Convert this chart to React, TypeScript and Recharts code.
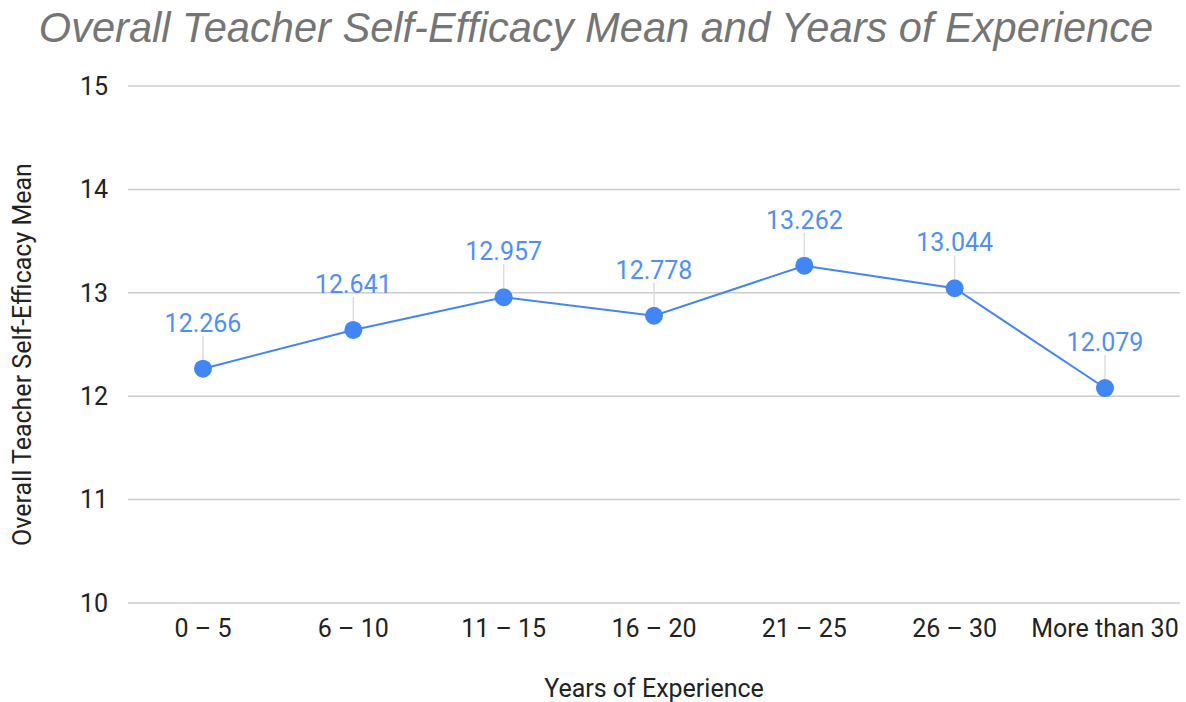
import React from "react";
import { LineChart, Line, XAxis, YAxis, CartesianGrid, LabelList } from "recharts";

const categories = ["0 – 5", "6 – 10", "11 – 15", "16 – 20", "21 – 25", "26 – 30", "More than 30"];
const meanValues = [12.266, 12.641, 12.957, 12.778, 13.262, 13.044, 12.079];
const yTicks = [10, 11, 12, 13, 14, 15];

const data = categories.map((c, i) => ({ name: c, mean: meanValues[i] }));

const FONT = "Roboto, 'Liberation Sans', Arial, sans-serif";

const PointLabel = (props: any) => {
  const { x, y, value } = props;
  return (
    <g>
      <line x1={x} y1={y - 33} x2={x} y2={y - 9} stroke="#dddddd" strokeWidth={1.5} />
      <text x={x} y={y - 37} textAnchor="middle" fill="#4f8ff7" fontSize={25} fontFamily={FONT}>
        {value.toFixed(3)}
      </text>
    </g>
  );
};

export default function App() {
  return (
    <div style={{ position: "absolute", left: 0, top: 0, width: 1186, height: 702, background: "#fff" }}>
      <div
        style={{
          position: "absolute",
          left: 0,
          top: 2,
          width: 1192,
          textAlign: "center",
          fontFamily: "'Liberation Sans', Arial, sans-serif",
          fontStyle: "italic",
          fontSize: 41.6,
          color: "#757575",
          lineHeight: "52px",
        }}
      >
        Overall Teacher Self-Efficacy Mean and Years of Experience
      </div>
      <LineChart
        width={1186}
        height={702}
        data={data}
        margin={{ top: 86, right: 6, left: 0, bottom: 0 }}
        style={{ fontFamily: FONT }}
      >
        <CartesianGrid horizontal vertical={false} stroke="#cccccc" strokeWidth={1.5} />
        <XAxis
          dataKey="name"
          axisLine={false}
          tickLine={false}
          height={99}
          padding={{ left: 75, right: 75 }}
          tick={{ fill: "#222222", fontSize: 25, fontFamily: FONT }}
          tickMargin={10}
          interval={0}
          label={{ value: "Years of Experience", position: "insideBottom", offset: 5, fill: "#222222", fontSize: 25, fontFamily: FONT }}
        />
        <YAxis
          domain={[10, 15]}
          ticks={yTicks}
          axisLine={false}
          tickLine={false}
          width={128}
          tick={{ fill: "#222222", fontSize: 25, fontFamily: FONT }}
          tickMargin={14}
          label={{ value: "Overall Teacher Self-Efficacy Mean", angle: -90, position: "insideLeft", offset: 22, dy: 10, fill: "#222222", fontSize: 25, fontFamily: FONT, style: { textAnchor: "middle" } }}
        />
        <Line
          type="linear"
          dataKey="mean"
          stroke="#4285f4"
          strokeWidth={2}
          dot={{ r: 9, fill: "#4285f4", stroke: "#4285f4", strokeWidth: 0 }}
          isAnimationActive={false}
        >
          <LabelList dataKey="mean" content={<PointLabel />} />
        </Line>
      </LineChart>
    </div>
  );
}
